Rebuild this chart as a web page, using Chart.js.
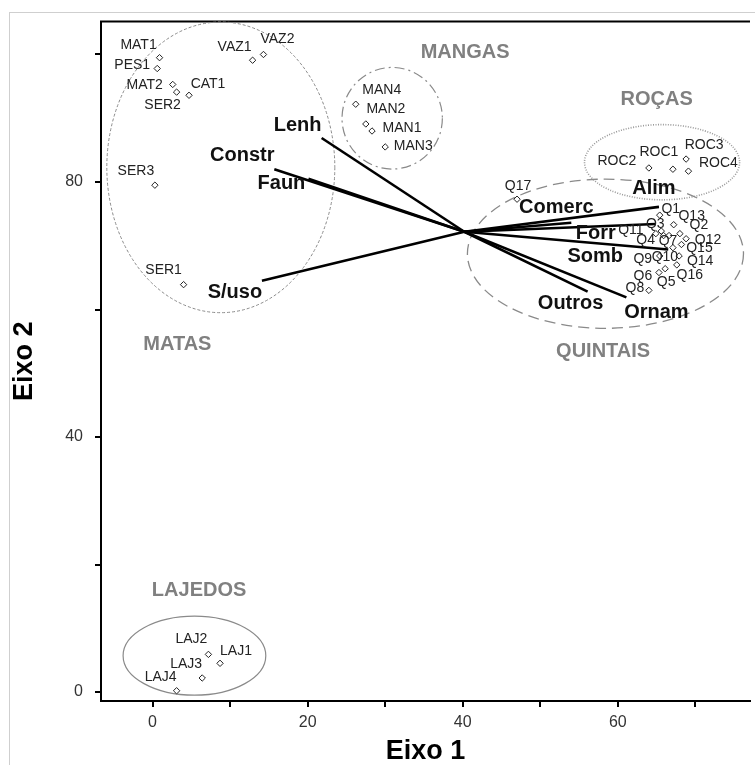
<!DOCTYPE html>
<html>
<head>
<meta charset="utf-8">
<script src="https://cdn.jsdelivr.net/npm/chart.js@4.4.0/dist/chart.umd.min.js"></script>
<style>
  html, body { margin: 0; padding: 0; background: #fff; overflow: hidden; }
  #wrap { position: relative; width: 755px; height: 765px; overflow: hidden; }
  #frame { position: absolute; left: 9px; top: 12px; right: 0; bottom: 0;
           border-left: 1px solid #cfcfcf; border-top: 1px solid #cfcfcf; }
  canvas { position: absolute; left: 0; top: 0; }
</style>
</head>
<body>
<div id="wrap">
  <div id="frame"></div>
  <canvas id="c" width="755" height="765"></canvas>
</div>
<script>
// Sampling units (sites) and their scores on the two ordination axes
const sites = ['MAT1','PES1','MAT2','SER2','CAT1','VAZ1','VAZ2','SER3','SER1',
  'MAN4','MAN2','MAN1','MAN3',
  'ROC2','ROC1','ROC3','ROC4',
  'Q17','Q1','Q13','Q3','Q11','Q2','Q4','Q7','Q12','Q15','Q10','Q9','Q14','Q16','Q5','Q6','Q8',
  'LAJ2','LAJ1','LAJ3','LAJ4'];
const eixo1 = [0.9, 0.6, 2.6, 3.1, 4.7, 12.9, 14.3, 0.3, 4.0,
  26.2, 27.5, 28.3, 30.0,
  64.0, 67.1, 68.8, 69.1,
  47.0, 65.4, 67.2, 65.6, 64.9, 68.0, 65.9, 66.6, 68.8, 68.2, 67.1, 65.4, 67.9, 67.6, 66.1, 65.3, 64.0,
  7.2, 8.7, 6.4, 3.1];
const eixo2 = [99.5, 97.8, 95.3, 94.1, 93.6, 99.1, 100.0, 79.5, 63.9,
  92.2, 89.1, 88.0, 85.5,
  82.2, 82.0, 83.6, 81.7,
  77.3, 74.8, 73.3, 72.3, 71.9, 71.9, 71.6, 71.6, 71.1, 70.2, 69.7, 68.4, 68.4, 67.0, 66.4, 65.8, 63.0,
  5.9, 4.5, 2.2, 0.2];

// Use categories plotted as vectors from a common origin
const usoNames = ['Lenh','Constr','Faun','S/uso','Comerc','Alim','Forr','Somb','Outros','Ornam'];
const usoEixo1 = [21.8, 15.7, 20.1, 14.1, 54.0, 65.3, 64.9, 66.5, 56.1, 61.1];
const usoEixo2 = [86.9, 82.0, 80.5, 64.5, 73.6, 76.1, 73.4, 69.4, 62.8, 61.9];
const usoOrigin = [40.2, 72.2];

// Landscape groups: ellipse centre and half-axes (axis units), plus title anchor
const groups  = ['MATAS','MANGAS','ROÇAS','QUINTAIS','LAJEDOS'];
const groupCx = [8.8, 30.9, 65.7, 58.4, 5.4];
const groupCy = [82.3, 90.0, 83.1, 68.75, 5.7];
const groupRx = [14.7, 6.47, 10.0, 17.8, 9.2];
const groupRy = [22.8, 7.97, 5.9, 11.7, 6.2];
const groupTagX = [3.2, 40.3, 65.0, 58.1, 6.0];
const groupTagY = [54.5, 100.3, 93.0, 53.4, 15.9];

// Tick positions, and the subset that carries a printed label
const xTicks = [0, 10, 20, 30, 40, 50, 60, 70];
const yTicks = [0, 20, 40, 60, 80, 100];
const xTickLabels = [0, 20, 40, 60];
const yTickLabels = [0, 40, 80];

// ---- layout / styling ----
const FONT = "'Liberation Sans', Arial, sans-serif";

// text placement relative to each marker (px)
const siteLabelShift = {
  MAT1:[-21,-13], PES1:[-25,-3], MAT2:[-28,1], SER2:[-14,13], CAT1:[19,-11],
  VAZ1:[-18,-13], VAZ2:[14,-15], SER3:[-19,-14], SER1:[-20,-14],
  MAN4:[26,-14], MAN2:[20,-15], MAN1:[30,-3], MAN3:[28,-1],
  ROC2:[-32,-7], ROC1:[-14,-17], ROC3:[18,-14], ROC4:[30,-8],
  Q17:[1,-13], Q1:[11,-6], Q13:[18,-9], Q3:[-6,-7], Q11:[-25,-3], Q2:[19,-8],
  Q4:[-18,5], Q7:[-1,6], Q12:[22,1], Q15:[18,4], Q10:[-8,9], Q9:[-17,3],
  Q14:[21,5], Q16:[13,10], Q5:[1,13], Q6:[-16,4], Q8:[-14,-2],
  LAJ2:[-17,-15], LAJ1:[16,-12], LAJ3:[-16,-14], LAJ4:[-16,-14]
};
const usoLabelShift = {
  'Lenh':[-24,-13], 'Constr':[-32,-14], 'Faun':[-27,5], 'S/uso':[-27,12],
  'Comerc':[-15,-15], 'Alim':[-5,-18], 'Forr':[-60,9], 'Somb':[-73,7],
  'Outros':[-17,12], 'Ornam':[30,15]
};
const ringStyle = {
  'MATAS':    { dash:[3,2],        width:1,   color:'#8a8a8a' },
  'MANGAS':   { dash:[10,4,2,4],   width:1.2, color:'#8a8a8a' },
  'ROÇAS':    { dash:[1,1.5],      width:1.6, color:'#9a9a9a' },
  'QUINTAIS': { dash:[11,6],       width:1.3, color:'#8a8a8a' },
  'LAJEDOS':  { dash:[],           width:1.2, color:'#8a8a8a' }
};

const siteData = sites.map((s, i) => ({ x: eixo1[i], y: eixo2[i] }));

const usoDatasets = usoNames.map((n, i) => ({
  label: n,
  data: [{ x: usoOrigin[0], y: usoOrigin[1] }, { x: usoEixo1[i], y: usoEixo2[i] }],
  showLine: true,
  borderColor: '#000',
  borderWidth: 2.6,
  pointRadius: 0,
  order: 2
}));

const overlay = {
  id: 'overlay',
  beforeDatasetsDraw(chart) {
    const { ctx, scales: { x, y }, chartArea: a } = chart;
    ctx.save();
    // closing line along the top of the plot frame
    ctx.strokeStyle = '#000';
    ctx.lineWidth = 2;
    ctx.beginPath();
    ctx.moveTo(a.left - 1, a.top);
    ctx.lineTo(a.right, a.top);
    ctx.stroke();
    // group ellipses
    groups.forEach((g, i) => {
      const st = ringStyle[g];
      const cx = x.getPixelForValue(groupCx[i]);
      const cy = y.getPixelForValue(groupCy[i]);
      const rx = Math.abs(x.getPixelForValue(groupCx[i] + groupRx[i]) - cx);
      const ry = Math.abs(y.getPixelForValue(groupCy[i] + groupRy[i]) - cy);
      ctx.beginPath();
      ctx.setLineDash(st.dash);
      ctx.lineWidth = st.width;
      ctx.strokeStyle = st.color;
      ctx.ellipse(cx, cy, rx, ry, 0, 0, Math.PI * 2);
      ctx.stroke();
    });
    ctx.restore();
  },
  afterDatasetsDraw(chart) {
    const { ctx, scales: { x, y } } = chart;
    ctx.save();
    ctx.textAlign = 'center';
    ctx.textBaseline = 'middle';

    // site names
    ctx.font = `14px ${FONT}`;
    ctx.fillStyle = '#222';
    sites.forEach((s, i) => {
      const d = siteLabelShift[s] || [0, -12];
      ctx.fillText(s, x.getPixelForValue(eixo1[i]) + d[0], y.getPixelForValue(eixo2[i]) + d[1]);
    });

    // use-category names at the vector tips
    ctx.font = `bold 20px ${FONT}`;
    ctx.fillStyle = '#111';
    usoNames.forEach((n, i) => {
      const d = usoLabelShift[n] || [0, -12];
      ctx.fillText(n, x.getPixelForValue(usoEixo1[i]) + d[0], y.getPixelForValue(usoEixo2[i]) + d[1]);
    });

    // group titles
    ctx.font = `bold 20px ${FONT}`;
    ctx.fillStyle = '#808080';
    groups.forEach((g, i) => {
      ctx.fillText(g, x.getPixelForValue(groupTagX[i]), y.getPixelForValue(groupTagY[i]));
    });
    ctx.restore();
  }
};

new Chart(document.getElementById('c'), {
  type: 'scatter',
  data: {
    datasets: [
      {
        label: 'sites',
        data: siteData,
        pointStyle: 'rectRot',
        pointRadius: 3.2,
        pointBorderWidth: 1,
        pointBorderColor: '#222',
        pointBackgroundColor: '#fff',
        order: 1
      },
      ...usoDatasets
    ]
  },
  options: {
    responsive: false,
    devicePixelRatio: 1,
    animation: false,
    events: [],
    layout: { padding: { top: 19, right: 0, bottom: 0, left: 0 } },
    plugins: { legend: { display: false }, tooltip: { enabled: false } },
    scales: {
      x: {
        type: 'linear',
        position: 'bottom',
        min: -6.65,
        max: 77.04,
        afterFit: s => { s.height = 64; },
        afterBuildTicks: s => { s.ticks = xTicks.map(v => ({ value: v })); },
        ticks: {
          autoSkip: false,
          maxRotation: 0,
          padding: 6,
          color: '#333',
          font: { family: FONT, size: 16 },
          callback: v => xTickLabels.includes(v) ? String(v) : ''
        },
        grid: { drawOnChartArea: false, drawTicks: true, tickLength: 6, color: '#000', lineWidth: 2 },
        border: { display: true, color: '#000', width: 2 },
        title: {
          display: true, text: 'Eixo 1', color: '#000',
          font: { family: FONT, size: 27, weight: 'bold', lineHeight: 1 },
          padding: { top: 0, bottom: 0 }
        }
      },
      y: {
        type: 'linear',
        position: 'left',
        min: -1.41,
        max: 105.16,
        afterFit: s => { s.width = 101; },
        afterBuildTicks: s => { s.ticks = yTicks.map(v => ({ value: v })); },
        ticks: {
          autoSkip: false,
          padding: 12,
          color: '#333',
          font: { family: FONT, size: 16 },
          callback: v => yTickLabels.includes(v) ? String(v) : ''
        },
        grid: { drawOnChartArea: false, drawTicks: true, tickLength: 6, color: '#000', lineWidth: 2 },
        border: { display: true, color: '#000', width: 2 },
        title: {
          display: true, text: 'Eixo 2', color: '#000',
          font: { family: FONT, size: 27, weight: 'bold', lineHeight: 1 },
          padding: { top: 11, bottom: 0 }
        }
      }
    }
  },
  plugins: [overlay]
});
</script>
</body>
</html>
